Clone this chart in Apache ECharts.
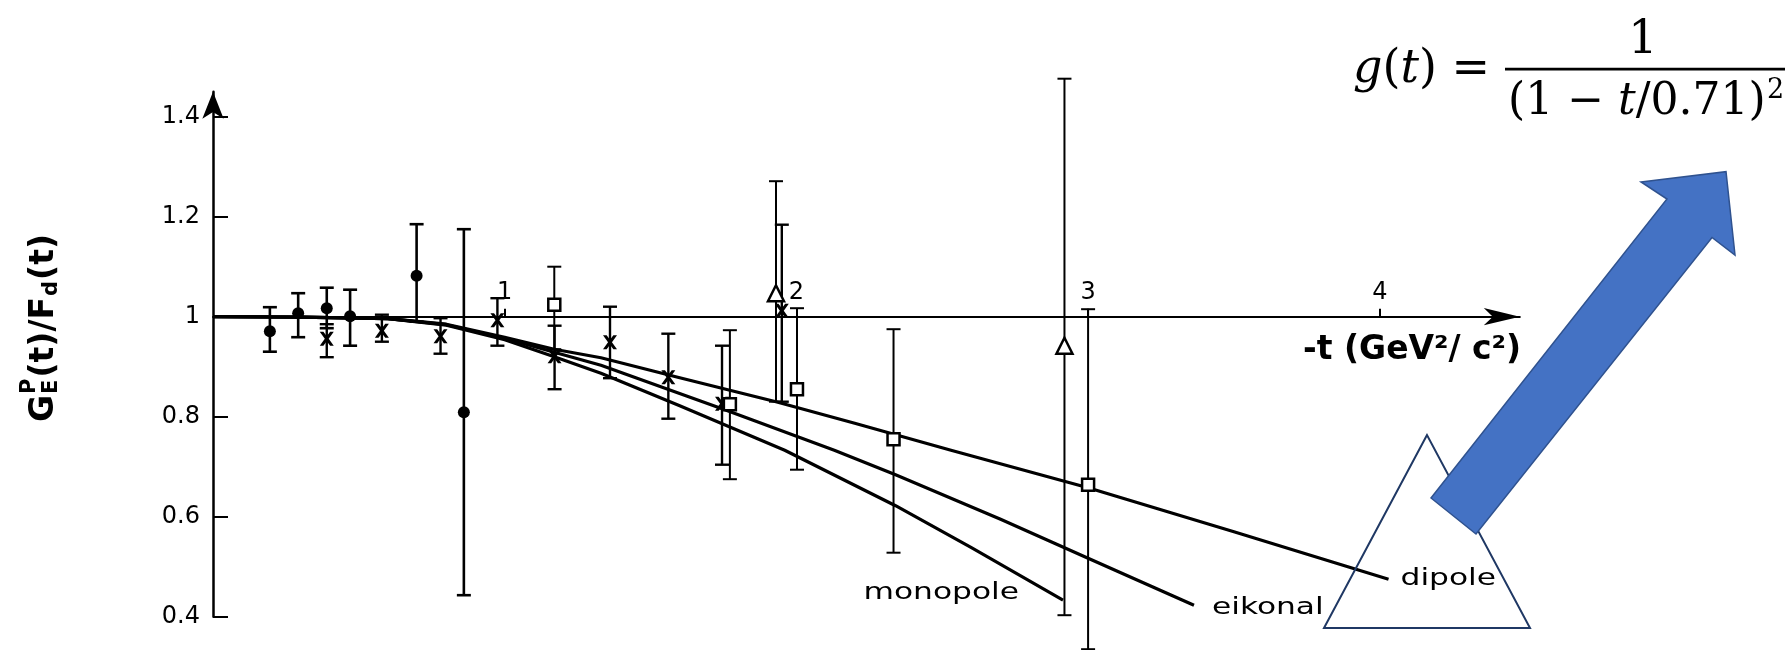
<!DOCTYPE html>
<html>
<head>
<meta charset="utf-8">
<script src="https://cdn.jsdelivr.net/npm/echarts@6/dist/echarts.min.js"></script>
<style>
  html, body { margin: 0; padding: 0; background: #ffffff; }
  #chart { width: 1792px; height: 650px; }
</style>
</head>
<body>
<div id="chart"></div>
<script>
// ---- axis ticks ----
const xTickVals = [1, 2, 3, 4];
const yTickVals = [0.4, 0.6, 0.8, 1.0, 1.2, 1.4];

// ---- measurements: filled circles ----
const dotT  = [0.195, 0.292, 0.390, 0.470, 0.698, 0.860];
const dotV  = [0.971, 1.007, 1.017, 1.001, 1.082, 0.809];
const dotLo = [0.930, 0.959, 0.977, 0.942, 0.990, 0.443];
const dotHi = [1.019, 1.047, 1.058, 1.054, 1.185, 1.175];

// ---- measurements: crosses ----
const crossT  = [0.390, 0.579, 0.780, 0.975, 1.171, 1.361, 1.561, 1.745, 1.950];
const crossV  = [0.956, 0.972, 0.961, 0.993, 0.921, 0.949, 0.879, 0.826, 1.012];
const crossLo = [0.919, 0.950, 0.926, 0.942, 0.855, 0.877, 0.796, 0.704, 0.830];
const crossHi = [0.985, 1.004, 0.997, 1.037, 0.982, 1.020, 0.966, 0.942, 1.184];

// ---- measurements: open squares ----
const sqT  = [1.170, 1.772, 2.002, 2.333, 3.000];
const sqV  = [1.024, 0.825, 0.855, 0.755, 0.664];
const sqLo = [0.935, 0.675, 0.694, 0.528, 0.335];
const sqHi = [1.100, 0.973, 1.017, 0.975, 1.015];

// ---- measurements: open triangles ----
const triT  = [1.930, 2.919];
const triV  = [1.047, 0.942];
const triLo = [0.830, 0.403];
const triHi = [1.271, 1.476];

// ---- model curves ----
const dipoleT = [0, 0.3, 0.6, 0.8, 1.0, 1.17, 1.33, 1.6, 1.93, 2.2, 2.53, 3.0, 3.5, 4.03];
const dipoleV = [1.0, 0.999, 0.996, 0.985, 0.959, 0.935, 0.918, 0.878, 0.830, 0.787, 0.733, 0.658, 0.570, 0.475];
const eikonalT = [0, 0.3, 0.6, 0.8, 1.0, 1.17, 1.33, 1.75, 2.13, 2.34, 2.7, 3.0, 3.363];
const eikonalV = [1.0, 0.999, 0.996, 0.984, 0.957, 0.929, 0.903, 0.815, 0.733, 0.684, 0.595, 0.517, 0.423];
const monopoleT = [0, 0.3, 0.6, 0.8, 1.0, 1.17, 1.33, 1.6, 1.96, 2.34, 2.6, 2.914];
const monopoleV = [1.0, 0.999, 0.996, 0.983, 0.954, 0.920, 0.887, 0.822, 0.733, 0.622, 0.538, 0.433];
const curveNames = ['monopole', 'eikonal', 'dipole'];

// ---- axis ranges ----
const X_MIN = 0, X_MAX = 4.48;
const Y_MIN = 0.4, Y_MAX = 1.45;
const Y_CROSS = 1.0;           // horizontal axis sits at this ratio

const GRID = { left: 213, right: 272.2, top: 91.7, bottom: 33.3 };
const gridH = 650 - GRID.top - GRID.bottom;
const xAxisOffset = -(Y_CROSS - Y_MIN) / (Y_MAX - Y_MIN) * gridH;

const zip = (a, b) => a.map((v, i) => [v, b[i]]);
const zip3 = (a, b, c) => a.map((v, i) => [v, b[i], c[i]]);

function errorBars(name, t, lo, hi, width) {
  return {
    name: name, type: 'custom', z: 2, clip: false, silent: true,
    data: zip3(t, lo, hi),
    encode: { x: 0, y: [1, 2] },
    renderItem: function (params, api) {
      const top = api.coord([api.value(0), api.value(2)]);
      const bot = api.coord([api.value(0), api.value(1)]);
      const c = 7;
      const st = { stroke: '#000', lineWidth: width };
      return {
        type: 'group',
        children: [
          { type: 'line', shape: { x1: top[0], y1: top[1], x2: bot[0], y2: bot[1] }, style: st },
          { type: 'line', shape: { x1: top[0] - c, y1: top[1], x2: top[0] + c, y2: top[1] }, style: st },
          { type: 'line', shape: { x1: bot[0] - c, y1: bot[1], x2: bot[0] + c, y2: bot[1] }, style: st }
        ]
      };
    }
  };
}

function curve(name, t, v) {
  return {
    name: name, type: 'line', z: 3, silent: true,
    data: zip(t, v), showSymbol: false, symbol: 'none',
    smooth: false,
    lineStyle: { color: '#000', width: 3.2, join: 'round' }
  };
}

const crossPath = 'path://M0,0 L2.6,0 L5,3.2 L7.4,0 L10,0 L6.4,5 L10,10 L7.4,10 L5,6.8 L2.6,10 L0,10 L3.6,5 Z';

const chart = echarts.init(document.getElementById('chart'), null, { renderer: 'canvas' });

const labelFont = { fontFamily: '"DejaVu Sans", sans-serif', color: '#000' };

// text metrics helper for composed titles
const mctx = document.createElement('canvas').getContext('2d');
function textW(str, size, weight) {
  mctx.font = (weight || 'normal') + ' ' + size + 'px "DejaVu Sans"';
  return mctx.measureText(str).width;
}

// vertical axis title: G_E^P(t) / F_d(t), reading bottom-to-top
const TS = 33, TSs = 21;
const wG = textW('G', TS, 'bold');
const wEP = Math.max(textW('E', TSs, 'bold'), textW('P', TSs, 'bold'));
const wA = textW('(t)/F', TS, 'bold');
const wd = textW('d', TSs, 'bold');
const wB = textW('(t)', TS, 'bold');
const titleLen = wG + wEP + wA + wd + wB + 4;
let px = -titleLen / 2;
function tpart(text, x, y, size) {
  return { type: 'text', x: x, y: y, style: { text: text, fontSize: size, fontWeight: 'bold', fontFamily: '"DejaVu Sans"', fill: '#000', align: 'left', verticalAlign: 'middle' } };
}
const yTitleParts = [];
yTitleParts.push(tpart('G', px, 0, TS)); px += wG + 1;
yTitleParts.push(tpart('E', px, 8, TSs));
yTitleParts.push(tpart('P', px, -14, TSs)); px += wEP + 1;
yTitleParts.push(tpart('(t)/F', px, 0, TS)); px += wA + 1;
yTitleParts.push(tpart('d', px, 8, TSs)); px += wd + 1;
yTitleParts.push(tpart('(t)', px, 0, TS));

const serif = '"DejaVu Serif", serif';

const staticGraphics = [
  { type: 'group', x: 44, y: 328, rotation: Math.PI / 2, children: yTitleParts },
  // horizontal axis title
  { type: 'text', x: 1303, y: 350, z: 5,
    style: { text: '-t (GeV²/ c²)', fontSize: 33, fontWeight: 'bold', fontFamily: '"DejaVu Sans"', fill: '#000', align: 'left', verticalAlign: 'middle' } },
  // outlined triangle
  { type: 'polygon', z: 20,
    shape: { points: [[1427, 435], [1324, 628], [1530, 628]] },
    style: { fill: 'none', stroke: '#1f3864', lineWidth: 2 } },
  // blue arrow
  { type: 'polygon', z: 21,
    shape: { points: [[1431, 498], [1667, 199], [1641, 182], [1726, 171.7], [1735, 255], [1712, 237.5], [1476, 534]] },
    style: { fill: '#4472c4', stroke: '#2f528f', lineWidth: 1.5 } },
  // dipole form factor
  { type: 'text', x: 1353, y: 70, z: 22,
    style: { text: '{i|g}({i|t}) =', fontSize: 46, fontFamily: serif, fill: '#000', align: 'left', verticalAlign: 'middle',
      rich: { i: { fontSize: 46, fontStyle: 'italic', fontFamily: serif, fill: '#000' } } } },
  { type: 'text', x: 1643, y: 41, z: 22,
    style: { text: '1', fontSize: 46, fontFamily: serif, fill: '#000', align: 'center', verticalAlign: 'middle' } },
  { type: 'rect', z: 22, shape: { x: 1505, y: 67.8, width: 280, height: 2.6 }, style: { fill: '#000' } },
  { type: 'text', x: 1508, y: 103, z: 22,
    style: { text: '(1 − {i|t}/0.71)', fontSize: 44, fontFamily: serif, fill: '#000', align: 'left', verticalAlign: 'middle',
      rich: { i: { fontSize: 44, fontStyle: 'italic', fontFamily: serif, fill: '#000' } } } },
  { type: 'text', x: 1767, y: 91, z: 22,
    style: { text: '2', fontSize: 27, fontFamily: serif, fill: '#000', align: 'left', verticalAlign: 'middle' } }
];

const option = {
  animation: false,
  backgroundColor: '#ffffff',
  grid: { left: GRID.left, right: GRID.right, top: GRID.top, bottom: GRID.bottom, containLabel: false, outerBoundsMode: 'none' },
  xAxis: {
    type: 'value', min: X_MIN, max: X_MAX, position: 'bottom', offset: xAxisOffset,
    axisLine: { show: true, onZero: false, lineStyle: { color: '#000', width: 2 },
      symbol: ['none', 'arrow'], symbolSize: [13, 36] },
    axisTick: { show: true, inside: true, length: 8, customValues: xTickVals, lineStyle: { color: '#000', width: 2 } },
    axisLabel: Object.assign({ show: true, inside: true, margin: 12, fontSize: 24, customValues: xTickVals }, labelFont),
    splitLine: { show: false }
  },
  yAxis: {
    type: 'value', min: Y_MIN, max: Y_MAX, interval: 0.2,
    axisLine: { show: true, onZero: false, lineStyle: { color: '#000', width: 2.5 },
      symbol: ['none', 'arrow'], symbolSize: [16, 27] },
    axisTick: { show: true, inside: true, length: 15, customValues: yTickVals, lineStyle: { color: '#000', width: 2 } },
    axisLabel: Object.assign({ show: true, margin: 13, fontSize: 24, customValues: yTickVals }, labelFont),
    splitLine: { show: false }
  },
  series: [
    errorBars('dot errors', dotT, dotLo, dotHi, 2.6),
    errorBars('cross errors', crossT, crossLo, crossHi, 2.4),
    errorBars('square errors', sqT, sqLo, sqHi, 2),
    errorBars('triangle errors', triT, triLo, triHi, 2),
    curve('monopole', monopoleT, monopoleV),
    curve('eikonal', eikonalT, eikonalV),
    curve('dipole', dipoleT, dipoleV),
    { name: 'dots', type: 'scatter', z: 4, silent: true, data: zip(dotT, dotV),
      symbol: 'circle', symbolSize: 12, itemStyle: { color: '#000', opacity: 1 } },
    { name: 'crosses', type: 'scatter', z: 4, silent: true, data: zip(crossT, crossV),
      symbol: crossPath, symbolSize: 14, itemStyle: { color: '#000', opacity: 1 } },
    { name: 'squares', type: 'scatter', z: 4, silent: true, data: zip(sqT, sqV),
      symbol: 'rect', symbolSize: 12, itemStyle: { color: '#fff', borderColor: '#000', borderWidth: 2.5, opacity: 1 } },
    { name: 'triangles', type: 'scatter', z: 4, silent: true, data: zip(triT, triV),
      symbol: 'triangle', symbolSize: 16, itemStyle: { color: '#fff', borderColor: '#000', borderWidth: 2.5, opacity: 1 } }
  ],
  graphic: staticGraphics
};

chart.setOption(option);

// curve names placed at the end of each curve, via the chart's own coordinate system
const ends = [
  [monopoleT[monopoleT.length - 1], monopoleV[monopoleV.length - 1]],
  [eikonalT[eikonalT.length - 1], eikonalV[eikonalV.length - 1]],
  [dipoleT[dipoleT.length - 1], dipoleV[dipoleV.length - 1]]
];
const place = [
  { dx: -44, dy: -7, align: 'right' },
  { dx: 18, dy: 3, align: 'left' },
  { dx: 12, dy: 0, align: 'left' }
];
const curveLabels = ends.map((p, i) => {
  const pix = chart.convertToPixel({ gridIndex: 0 }, p);
  return {
    type: 'text', x: pix[0] + place[i].dx, y: pix[1] + place[i].dy, scaleX: 1.36, z: 6,
    style: { text: curveNames[i], fontSize: 23, fontFamily: '"DejaVu Sans"', fill: '#000',
      align: place[i].align, verticalAlign: 'middle' }
  };
});
chart.setOption({ graphic: staticGraphics.concat(curveLabels) });
</script>
</body>
</html>
